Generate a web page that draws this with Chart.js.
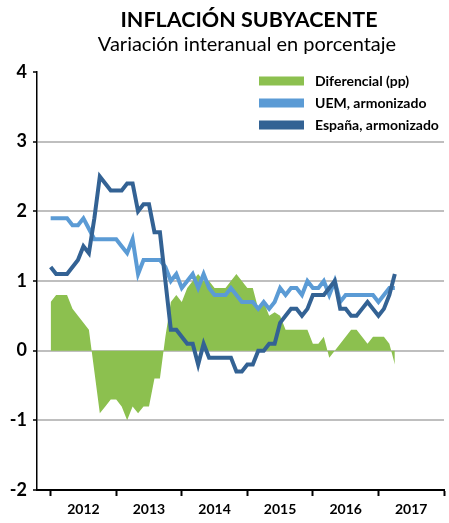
<!DOCTYPE html>
<html lang="es">
<head>
  <meta charset="utf-8">
  <title>Inflación subyacente</title>
  <script src="https://cdn.jsdelivr.net/npm/chart.js@4"></script>
  <style>
    body { margin: 0; background: #fff; }
    #holder { width: 449px; height: 523px; }
  </style>
</head>
<body>
<div id="holder"><canvas id="chart" width="449" height="523"></canvas></div>
<script>
  // monthly data, Jan 2012 .. Apr 2017 (index 0 = Jan 2012)
  var yearLabels = ['2012', '2013', '2014', '2015', '2016', '2017'];
  var yTicks = [-2, -1, 0, 1, 2, 3, 4];

  var diferencial = [
    0.7, 0.8, 0.8, 0.8, 0.6, 0.5, 0.4, 0.3, -0.3, -0.9,
    -0.8, -0.7, -0.7, -0.8, -1.0, -0.8, -0.9, -0.8, -0.8, -0.4,
    -0.4, 0.2, 0.7, 0.8, 0.7, 0.9, 1.0, 1.1, 1.0, 1.0,
    0.9, 0.9, 0.9, 1.0, 1.1, 1.0, 0.9, 0.9, 0.6, 0.7,
    0.5, 0.55, 0.5, 0.3, 0.3, 0.3, 0.3, 0.3, 0.1, 0.1,
    0.2, -0.1, 0.0, 0.1, 0.2, 0.3, 0.3, 0.2, 0.1, 0.2,
    0.2, 0.2, 0.1, -0.2
  ];
  var uem = [
    1.9, 1.9, 1.9, 1.9, 1.8, 1.8, 1.9, 1.75, 1.6, 1.6,
    1.6, 1.6, 1.6, 1.5, 1.4, 1.6, 1.1, 1.3, 1.3, 1.3,
    1.3, 1.2, 1.0, 1.1, 0.9, 1.0, 1.1, 0.9, 1.1, 0.9,
    0.8, 0.8, 0.8, 0.9, 0.8, 0.7, 0.7, 0.7, 0.6, 0.7,
    0.6, 0.7, 0.9, 0.8, 0.9, 0.9, 0.8, 1.0, 0.9, 0.9,
    1.0, 0.8, 1.0, 0.7, 0.8, 0.8, 0.8, 0.8, 0.8, 0.8,
    0.7, 0.8, 0.9, 0.9
  ];
  var espana = [
    1.2, 1.1, 1.1, 1.1, 1.2, 1.3, 1.5, 1.4, 1.9, 2.5,
    2.4, 2.3, 2.3, 2.3, 2.4, 2.4, 2.0, 2.1, 2.1, 1.7,
    1.7, 1.0, 0.3, 0.3, 0.2, 0.1, 0.1, -0.2, 0.1, -0.1,
    -0.1, -0.1, -0.1, -0.1, -0.3, -0.3, -0.2, -0.2, 0.0, 0.0,
    0.1, 0.1, 0.4, 0.5, 0.6, 0.6, 0.5, 0.6, 0.8, 0.8,
    0.8, 0.9, 1.0, 0.6, 0.6, 0.5, 0.5, 0.6, 0.7, 0.6,
    0.5, 0.6, 0.8, 1.1
  ];

  var FONT = 'Lato, "DejaVu Sans", sans-serif';

  function toPoints(arr) {
    return arr.map(function (v, i) { return { x: i, y: v }; });
  }

  // title + subtitle and the legend box inside the plot
  var decorations = {
    id: 'decorations',
    afterDraw: function (chart) {
      var ctx = chart.ctx;
      ctx.save();
      ctx.fillStyle = '#000';
      ctx.textAlign = 'center';
      ctx.textBaseline = 'middle';
      ctx.font = 'bold 21.5px ' + FONT;
      ctx.fillText('INFLACIÓN SUBYACENTE', 249, 20);
      ctx.font = '20px ' + FONT;
      ctx.fillText('Variación interanual en porcentaje', 247, 45);

      ctx.textAlign = 'left';
      ctx.font = 'bold 14px ' + FONT;
      var ds = chart.data.datasets;
      for (var k = 0; k < ds.length; k++) {
        var y = 81 + k * 22;
        ctx.fillStyle = ds[k].legendColor;
        ctx.fillRect(259, y - 4.5, 45, 9);
        ctx.fillStyle = '#000';
        ctx.fillText(ds[k].label, 315, y);
      }
      ctx.restore();
    }
  };

  var config = {
    type: 'line',
    data: {
      datasets: [{
        label: 'Diferencial (pp)',
        data: toPoints(diferencial),
        legendColor: '#8CC04F',
        backgroundColor: '#8CC04F',
        borderColor: '#8CC04F',
        borderWidth: 0,
        fill: 'origin',
        order: 3
      }, {
        label: 'UEM, armonizado',
        data: toPoints(uem),
        legendColor: '#5B9BD5',
        borderColor: '#5B9BD5',
        borderWidth: 4,
        fill: false,
        order: 2
      }, {
        label: 'España, armonizado',
        data: toPoints(espana),
        legendColor: '#336294',
        borderColor: '#336294',
        borderWidth: 4,
        fill: false,
        order: 1
      }]
    },
    options: {
      responsive: false,
      animation: false,
      layout: { padding: { top: 72, right: 2, left: 0, bottom: 0 } },
      elements: {
        point: { radius: 0, hoverRadius: 0 },
        line: { tension: 0, borderJoinStyle: 'miter' }
      },
      plugins: {
        legend: { display: false },
        tooltip: { enabled: false }
      },
      scales: {
        x: {
          type: 'linear',
          min: -2.5,
          max: 72,
          afterBuildTicks: function (scale) {
            var t = [];
            for (var v = 0; v <= 72; v += 6) t.push({ value: v });
            scale.ticks = t;
          },
          afterFit: function (scale) { scale.height = 33; },
          border: { display: true, color: '#000', width: 2 },
          grid: {
            drawOnChartArea: false,
            tickLength: 6,
            tickWidth: 2,
            tickColor: function (c) {
              return c.tick && c.tick.value % 12 === 0 ? '#000' : 'rgba(0,0,0,0)';
            }
          },
          ticks: {
            autoSkip: false,
            maxRotation: 0,
            padding: 5,
            color: '#000',
            font: { family: FONT, size: 14, weight: 'bold' },
            callback: function (v) {
              return v % 12 === 6 ? yearLabels[(v - 6) / 12] : '';
            }
          }
        },
        y: {
          min: yTicks[0],
          max: yTicks[yTicks.length - 1],
          afterBuildTicks: function (scale) {
            scale.ticks = yTicks.map(function (v) { return { value: v }; });
          },
          afterFit: function (scale) { scale.width = 37; },
          border: { display: true, color: '#000', width: 1.5 },
          grid: {
            color: function (c) {
              var v = c.tick && c.tick.value;
              return (v === 4 || v === -2) ? 'rgba(0,0,0,0)' : '#BFBFBF';
            },
            lineWidth: 2,
            tickLength: 4,
            tickColor: '#000',
            tickWidth: 1.5
          },
          ticks: {
            padding: 6,
            color: '#000',
            font: { family: FONT, size: 18, weight: 'bold' }
          }
        }
      }
    },
    plugins: [decorations]
  };

  var myChart = new Chart(document.getElementById('chart').getContext('2d'), config);
</script>
</body>
</html>
